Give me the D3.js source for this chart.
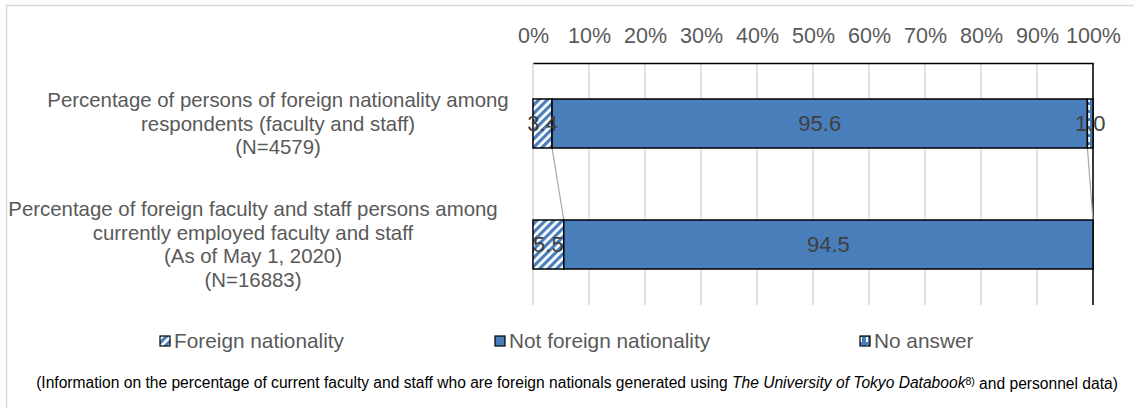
<!DOCTYPE html>
<html>
<head>
<meta charset="utf-8">
<script src="https://cdn.jsdelivr.net/npm/d3@7"></script>
<style>
  html, body { margin: 0; padding: 0; background: #fff; }
  svg { display: block; font-family: "Liberation Sans", Arial, sans-serif; }
</style>
</head>
<body>
<svg id="chart" width="1134" height="408"></svg>
<script>
// Survey categories (multi-line labels)
const categories = [
  ["Percentage of persons of foreign nationality among", "respondents (faculty and staff)", "(N=4579)"],
  ["Percentage of foreign faculty and staff persons among", "currently employed faculty and staff", "(As of May 1, 2020)", "(N=16883)"]
];
const seriesNames = ["Foreign nationality", "Not foreign nationality", "No answer"];
const foreignNationality = [3.4, 5.5];
const notForeignNationality = [95.6, 94.5];
const noAnswer = [1.0, 0];
const tickValues = [0, 10, 20, 30, 40, 50, 60, 70, 80, 90, 100];

const blue = "#4a7ebb";
const svg = d3.select("#chart");

// fill patterns
const defs = svg.append("defs");
const hatch = defs.append("pattern")
  .attr("id", "hatch").attr("patternUnits", "userSpaceOnUse")
  .attr("width", 6).attr("height", 6)
  .attr("patternTransform", "rotate(45)");
hatch.append("rect").attr("width", 6).attr("height", 6).attr("fill", "#fff");
hatch.append("rect").attr("width", 3.2).attr("height", 6).attr("fill", blue);

const grid = defs.append("pattern")
  .attr("id", "grid").attr("patternUnits", "userSpaceOnUse")
  .attr("width", 6).attr("height", 8);
grid.append("rect").attr("width", 6).attr("height", 8).attr("fill", blue);
grid.append("rect").attr("x", 2).attr("y", 1).attr("width", 2).attr("height", 5).attr("fill", "#fff");

const fills = ["url(#hatch)", blue, "url(#grid)"];

// outer frame
svg.append("path").attr("d", "M6.5,408V5.5H1134")
  .attr("fill", "none").attr("stroke", "#d9d9d9").attr("stroke-width", 1.5);

const plotLeft = 533, plotRight = 1093, plotTop = 63, plotBottom = 305;
const x = d3.scaleLinear().domain([0, 100]).range([plotLeft, plotRight]);
const y = d3.scaleBand().domain(d3.range(categories.length)).range([plotTop, plotBottom]).paddingInner(0.595).paddingOuter(0.2975);

// gridlines
svg.append("g").selectAll("line").data(tickValues).join("line")
  .attr("x1", d => x(d)).attr("x2", d => x(d))
  .attr("y1", plotTop).attr("y2", plotBottom)
  .attr("stroke", "#d9d9d9").attr("stroke-width", 1.5);

// top axis labels
const axis = svg.append("g").attr("transform", `translate(0,${plotTop})`)
  .call(d3.axisTop(x).tickValues(tickValues).tickFormat(d => d + "%").tickSize(0).tickPadding(20));
axis.select(".domain").attr("stroke", "#000").attr("stroke-width", 1.5);
axis.selectAll("text").attr("font-size", 21.5).attr("fill", "#595959")
  .attr("font-family", "Liberation Sans, Arial, sans-serif");

// right border line
svg.append("line").attr("x1", plotRight).attr("x2", plotRight).attr("y1", plotTop).attr("y2", plotBottom)
  .attr("stroke", "#000").attr("stroke-width", 1.5);

// stacked segments
const rows = categories.map((c, i) => [foreignNationality[i], notForeignNationality[i], noAnswer[i]]);
const stacked = rows.map(r => {
  let acc = 0;
  return r.map((v, k) => { const s = { k, v, x0: acc, x1: acc + v }; acc += v; return s; });
});

// series lines between bars
const seriesLines = svg.append("g");
for (let k = 0; k < 2; k++) {
  seriesLines.append("line")
    .attr("x1", x(stacked[0][k].x1)).attr("y1", y(0) + y.bandwidth())
    .attr("x2", x(stacked[1][k].x1)).attr("y2", y(1))
    .attr("stroke", "#a6a6a6").attr("stroke-width", 1.2);
}

const barG = svg.append("g");
stacked.forEach((segs, i) => {
  segs.filter(s => s.v > 0).forEach(s => {
    barG.append("rect")
      .attr("x", x(s.x0)).attr("y", y(i))
      .attr("width", x(s.x1) - x(s.x0)).attr("height", y.bandwidth())
      .attr("fill", fills[s.k]).attr("stroke", "#000").attr("stroke-width", 1.5);
  });
});
stacked.forEach((segs, i) => {
  segs.filter(s => s.v > 0).forEach(s => {
    barG.append("text")
      .attr("x", x((s.x0 + s.x1) / 2)).attr("y", y(i) + y.bandwidth() / 2)
      .attr("dy", "0.35em").attr("text-anchor", "middle")
      .attr("font-size", 22).attr("fill", "#404040")
      .text(s.v.toFixed(1));
  });
});

// category labels
const lineH = 23.5;
categories.forEach((lines, i) => {
  const cy = y(i) + y.bandwidth() / 2;
  const t = svg.append("text").attr("text-anchor", "middle")
    .attr("font-size", 20.4).attr("fill", "#595959");
  lines.forEach((ln, j) => {
    t.append("tspan").attr("x", i === 0 ? 278 : 253)
      .attr("y", cy + (j - (lines.length - 1) / 2) * lineH)
      .attr("dy", "0.35em").text(ln);
  });
});

// legend
const legendX = [160, 495, 860];
const lg = svg.append("g");
seriesNames.forEach((name, k) => {
  lg.append("rect").attr("x", legendX[k]).attr("y", 336).attr("width", 10).attr("height", 10)
    .attr("fill", fills[k]).attr("stroke", "#000").attr("stroke-width", 1.2);
  lg.append("text").attr("x", legendX[k] + 14).attr("y", 341).attr("dy", "0.35em")
    .attr("font-size", 20.8).attr("fill", "#595959").text(name);
});

// source note
const note = svg.append("text").attr("x", 577).attr("y", 383).attr("dy", "0.35em")
  .attr("text-anchor", "middle").attr("font-size", 15.6).attr("fill", "#000");
note.append("tspan").text("(Information on the percentage of current faculty and staff who are foreign nationals generated using ");
note.append("tspan").attr("font-style", "italic").text("The University of Tokyo Databook");
note.append("tspan").attr("font-size", 10.5).attr("dy", "-0.35em").text("8)");
note.append("tspan").attr("dy", "0.25em").text(" and personnel data)");
</script>
</body>
</html>
